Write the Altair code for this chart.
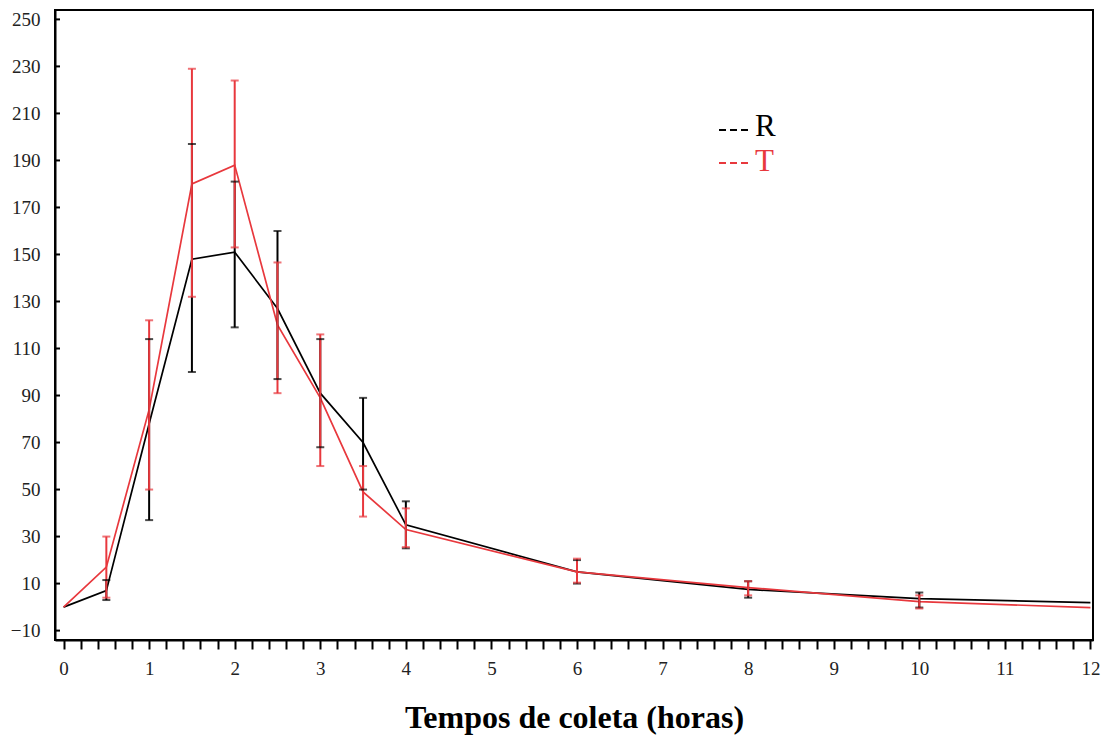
import altair as alt
import pandas as pd

times = [0, 0.5, 1, 1.5, 2, 2.5, 3, 3.5, 4, 6, 8, 10, 12]
r_mean = [0, 7, 78, 148, 151, 127, 91, 70, 35, 15, 7.5, 3.6, 1.9]
r_low = [None, 3, 37, 100, 119, 97, 68, 50, 25, 10, 4, -0.2, None]
r_high = [None, 11.5, 114, 197, 181, 160, 114, 89, 45, 20, 11, 6.2, None]
t_mean = [0, 17, 84, 180, 188, 120, 89, 49, 33, 15, 8.3, 2.3, -0.2]
t_low = [None, 4, 50, 132, 153, 91, 60, 38.5, 25.5, 10.4, 5, -0.6, None]
t_high = [None, 30, 122, 229, 224, 146.6, 116, 60, 42, 20.6, 11, 5, None]

y_ticks = [-10, 10, 30, 50, 70, 90, 110, 130, 150, 170, 190, 210, 230, 250]
x_ticks = [round(k * 0.2, 1) for k in range(61)]
series_names = ["R", "T"]
series_colors = ["#000000", "#e8383d"]
x_title = "Tempos de coleta (horas)"

rows = []
for name, m, lo, hi in (("R", r_mean, r_low, r_high), ("T", t_mean, t_low, t_high)):
    for t, a, b, c in zip(times, m, lo, hi):
        rows.append({"t": t, "mean": a, "lo": b, "hi": c, "serie": name})
df = pd.DataFrame(rows)
df_err = df.dropna(subset=["lo", "hi"])

FONT = "Liberation Serif"
xscale = alt.Scale(domain=[-0.1, 12.03], nice=False, zero=False)
yscale = alt.Scale(domain=[-14, 254], nice=False, zero=False)
cscale = alt.Scale(domain=series_names, range=series_colors)

x_axis = alt.Axis(
    values=x_ticks, labelExpr="abs(datum.value - round(datum.value)) < 0.01 ? format(datum.value, 'd') : ''",
    labelOverlap=False, tickSize=9, tickWidth=2, tickColor="black", domainColor="black",
    domainWidth=2, grid=False, labelFont=FONT, labelFontSize=19, labelColor="#222",
    labelPadding=10, title=x_title, titleFont=FONT, titleFontSize=32, titleFontWeight="bold",
    titleColor="black", titlePadding=24,
)
y_axis = alt.Axis(
    values=y_ticks, ticks=False, domainColor="black", domainWidth=2, grid=False,
    labelFont=FONT, labelFontSize=19, labelColor="#222", labelPadding=15, title="",
)

X = alt.X("t:Q", scale=xscale, axis=x_axis)
COLOR = alt.Color("serie:N", scale=cscale, legend=None)

lines = alt.Chart(df).mark_line(strokeWidth=1.7).encode(
    x=X,
    y=alt.Y("mean:Q", scale=yscale, axis=y_axis),
    color=COLOR,
    detail="serie:N",
)

err = alt.Chart(df_err).mark_rule(strokeWidth=2).encode(
    x=X,
    y=alt.Y("lo:Q", scale=yscale, axis=y_axis),
    y2="hi:Q",
    color=COLOR,
)
cap_lo = alt.Chart(df_err).mark_tick(orient="horizontal", size=8, thickness=2).encode(
    x=X,
    y=alt.Y("lo:Q", scale=yscale, axis=y_axis),
    color=COLOR,
)
cap_hi = alt.Chart(df_err).mark_tick(orient="horizontal", size=8, thickness=2).encode(
    x=X,
    y=alt.Y("hi:Q", scale=yscale, axis=y_axis),
    color=COLOR,
)

yt = alt.Chart(pd.DataFrame({"v": y_ticks})).mark_rule(color="black", strokeWidth=2).encode(
    x=alt.value(0), x2=alt.value(5),
    y=alt.Y("v:Q", scale=yscale, axis=y_axis),
)

leg_df = pd.DataFrame({"serie": series_names})
legend_layers = []
for name, ly in zip(series_names, [120, 153]):
    base = alt.Chart(leg_df).transform_filter(alt.datum.serie == name)
    legend_layers.append(
        base.mark_rule(strokeWidth=2, strokeDash=[7, 4]).encode(
            x=alt.value(664), x2=alt.value(693), y=alt.value(ly), color=COLOR
        )
    )
    legend_layers.append(
        base.mark_text(font=FONT, fontSize=31, align="left", baseline="alphabetic").encode(
            x=alt.value(700), y=alt.value(ly + 6 + (2 if name == "T" else 0)), text="serie:N", color=COLOR
        )
    )

chart = alt.layer(lines, err, cap_lo, cap_hi, yt, *legend_layers).properties(
    width=1038, height=630,
    padding={"left": 47, "top": 2, "right": 9, "bottom": 105},
    autosize="none",
    background="white",
).configure_view(stroke="black", strokeWidth=2)

chart.save("out.html", embed_options={"renderer": "svg", "actions": False})
